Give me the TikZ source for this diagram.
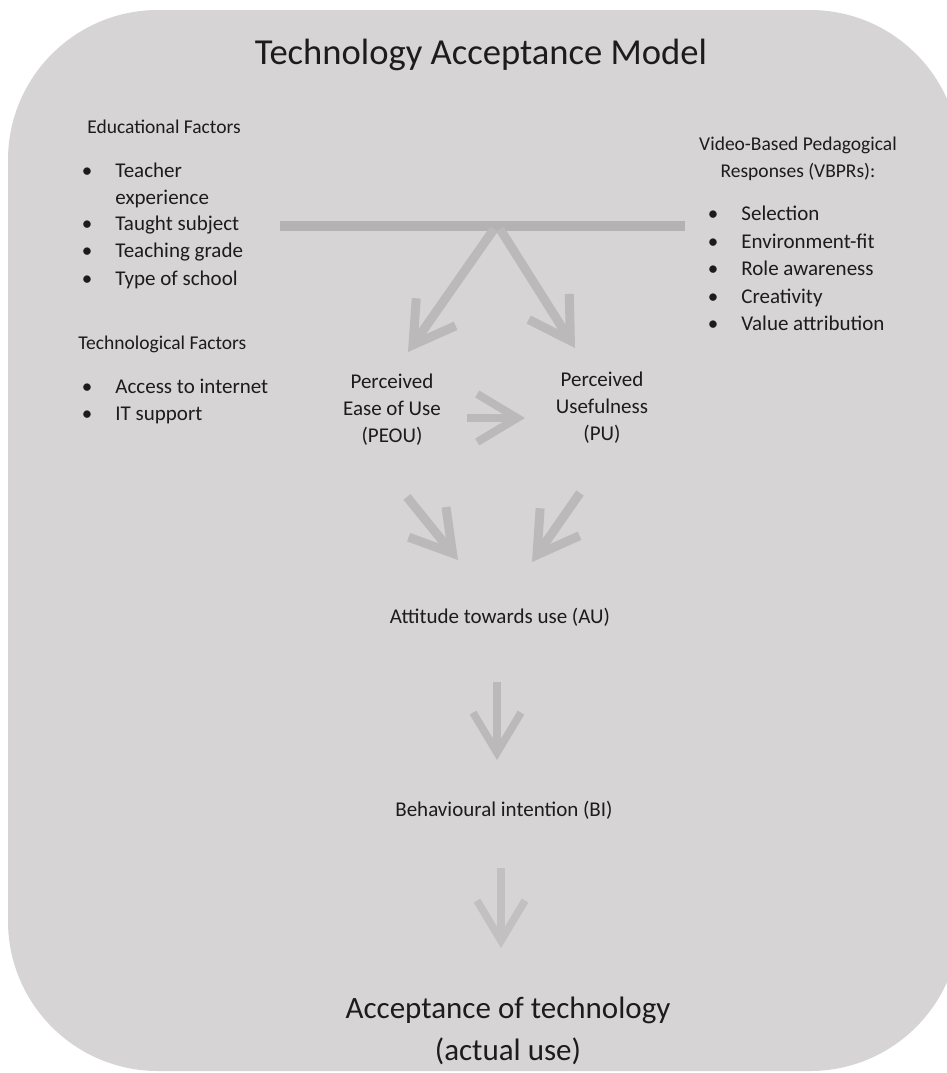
\documentclass[tikz,border=0pt]{standalone}
\usepackage{fontspec}
\setmainfont{Carlito}
\usepackage{xcolor}
\usetikzlibrary{arrows.meta,positioning}

\definecolor{panelgrey}{HTML}{D6D4D5}
\definecolor{bargrey}{HTML}{B4B2B3}
\definecolor{arrowgrey}{HTML}{BBB9BA}
\definecolor{paleArrow}{HTML}{C2C0C1}
\definecolor{ink}{HTML}{1C1C1C}

\tikzset{
  txt/.style={inner sep=0pt, text=ink, font=\fontsize{10.5}{13.5}\selectfont},
  head/.style={txt, font=\fontsize{9.75}{13.5}\selectfont},
  fatarrow/.style={draw=arrowgrey, line width=4.5pt, -{Straight Barb[length=20pt,width=24pt]}},
}

\begin{document}
\begin{tikzpicture}[x=0.5pt,y=-0.5pt]
\useasboundingbox (0,0) rectangle (947,1073);
\clip (0,0) rectangle (947,1073);

% Grey panel behind everything
\fill[panelgrey, rounded corners=75pt] (8,10) rectangle (960,1071);

% Title
\node[txt, font=\fontsize{18.3}{22}\selectfont] (title) at (481,55) {Technology Acceptance Model};

% Educational factors (left)
\node[head, anchor=base west] (edu) at (87,133) {Educational Factors};
\foreach \item/\y [count=\i] in {Teacher/177, Taught subject/230, Teaching grade/257, Type of school/285} {
    \node[txt, anchor=base] at (87,\y) {\textbullet};
    \node[txt, anchor=base west] (edu\i) at (115,\y) {\item};
}
\node[txt, anchor=base west] (eduwrap) at (115,204) {experience};

% Technological factors (left)
\node[head, anchor=base west] (tech) at (78,349) {Technological Factors};
\foreach \item/\y [count=\i] in {Access to internet/393, IT support/420} {
    \node[txt, anchor=base] at (87,\y) {\textbullet};
    \node[txt, anchor=base west] (tech\i) at (115,\y) {\item};
}

% Video-based pedagogical responses (right)
\node[head, align=center] (vbpr) at (798,159) {Video-Based Pedagogical\\Responses (VBPRs):};
\foreach \item/\y [count=\i] in {Selection/220, Environment-fit/248, Role awareness/275, Creativity/303, Value attribution/330} {
    \node[txt, anchor=base] at (713,\y) {\textbullet};
    \node[txt, anchor=base west] (vbpr\i) at (741,\y) {\item};
}

% TAM constructs
\node[txt, align=center] (peou) at (392,410) {Perceived\\Ease of Use\\(PEOU)};
\node[txt, align=center] (pu) at (602,408) {Perceived\\Usefulness\\(PU)};
\node[txt] (au) at (500,617) {Attitude towards use (AU)};
\node[txt] (bi) at (504,810) {Behavioural intention (BI)};
\node[txt, align=center, font=\fontsize{15.5}{21}\selectfont] (use) at (508,1031) {Acceptance of technology\\(actual use)};

% Arrow end points
\coordinate (barL) at (280,226);
\coordinate (barR) at (685,226);
\coordinate (hubL) at (494,229);
\coordinate (hubR) at (500,229);
\coordinate (peouTip) at (408,352);
\coordinate (puTip) at (575,348);
\coordinate (sideA) at (467,418);
\coordinate (sideB) at (525,418);
\coordinate (auA) at (407,497);
\coordinate (auTipA) at (458,560);
\coordinate (auB) at (580,493);
\coordinate (auTipB) at (532,562);
\coordinate (biA) at (497,682);
\coordinate (biTip) at (497,760);
\coordinate (useA) at (501,868);
\coordinate (useTip) at (501,948);

% Factor bar and arrows
\draw[bargrey, line width=5pt] (barL) -- (barR);
\draw[fatarrow] (hubL) -- (peouTip);
\draw[fatarrow] (hubR) -- (puTip);
\draw[fatarrow, line width=4pt] (sideA) -- (sideB);
\draw[fatarrow] (auA) -- (auTipA);
\draw[fatarrow] (auB) -- (auTipB);
\draw[fatarrow, line width=3.8pt] (biA) -- (biTip);
\draw[fatarrow, draw=paleArrow, line width=3.8pt] (useA) -- (useTip);

\end{tikzpicture}
\end{document}
